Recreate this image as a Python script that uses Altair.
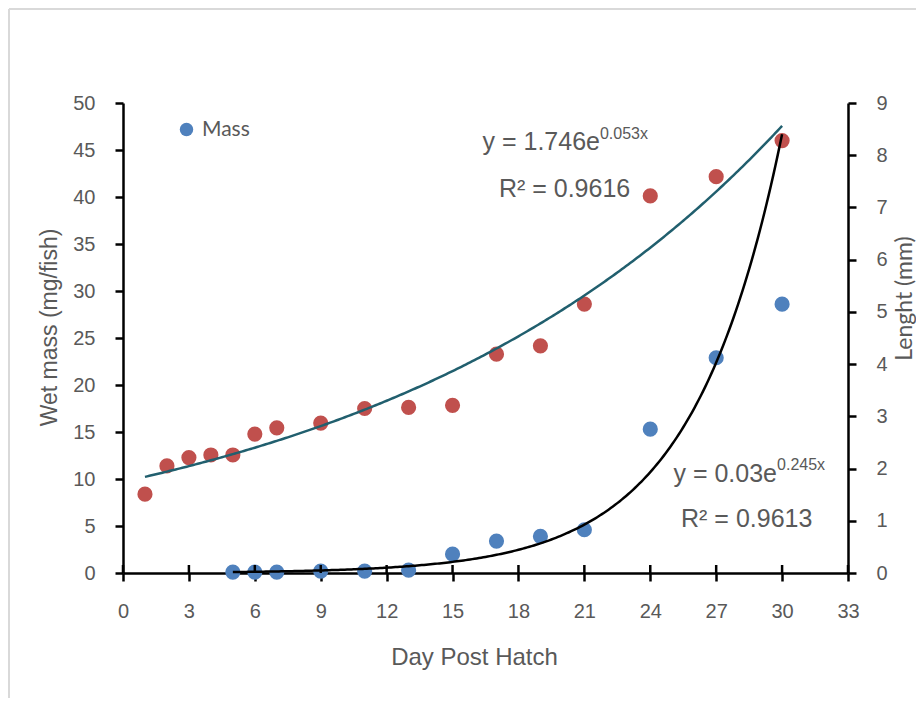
import altair as alt
import pandas as pd

# ---------------- data ----------------
mass_days = [5, 6, 7, 9, 11, 13, 15, 17, 19, 21, 24, 27, 30]
mass_mg = [0.1, 0.1, 0.1, 0.2, 0.2, 0.3, 2.0, 3.4, 3.9, 4.6, 15.3, 22.9, 28.6]
length_days = [1, 2, 3, 4, 5, 6, 7, 9, 11, 13, 15, 17, 19, 21, 24, 27, 30]
length_mm = [1.51, 2.05, 2.21, 2.26, 2.26, 2.66, 2.78, 2.87, 3.15, 3.17, 3.21,
             4.19, 4.35, 5.15, 7.22, 7.59, 8.28]
mass_fit = [0.03, 0.245]      # Excel exponential trendline y = a*e^(b*x)
length_fit = [1.746, 0.053]
x_ticks = list(range(0, 34, 3))
mass_ticks = list(range(0, 51, 5))
length_ticks = list(range(0, 10))
mass_eq = ["y = 0.03e", "0.245x", "R² = 0.9613"]
length_eq = ["y = 1.746e", "0.053x", "R² = 0.9616"]
legend_labels = ["Mass"]

GRAY = "#595959"
BLUE = "#4F81BD"
RED = "#C0504D"
TEAL = "#215F6E"

common_axis = dict(grid=False, domainColor="black", domainWidth=2.5,
                   tickColor="black", tickWidth=2.5, tickSize=8,
                   labelFont="Liberation Sans", labelFontSize=20, labelColor=GRAY,
                   labelPadding=20, labelFlush=False, labelOverlap=False,
                   titleColor=GRAY, titleFontWeight="normal")

xaxis = alt.Axis(values=x_ticks, title="Day Post Hatch", titleFont="Liberation Sans",
                 titleFontSize=24, titlePadding=24, titleX=351, **common_axis)
laxis = alt.Axis(orient="left", values=mass_ticks, title="Wet mass (mg/fish)",
                 titleFont="Liberation Sans", titleFontSize=23, titlePadding=11,
                 titleY=224, **common_axis)
raxis = alt.Axis(orient="right", values=length_ticks, title="Lenght (mm)",
                 titleFont="Lato", titleFontSize=23, titleAngle=270,
                 titleBaseline="top", titlePadding=6, titleY=195, **common_axis)

xscale = alt.Scale(domain=[0, 33], nice=False, zero=False)
lscale = alt.Scale(domain=[0, 50], nice=False, zero=False)
rscale = alt.Scale(domain=[0, 9], nice=False, zero=False)


def X(field):
    return alt.X(field, type="quantitative", scale=xscale, axis=xaxis)


mass_df = pd.DataFrame({"day": mass_days, "mass": mass_mg,
                        "series": [legend_labels[0]] * len(mass_days)})
len_df = pd.DataFrame({"day": length_days, "length": length_mm})

# ---------------- right axis layers (length) ----------------
red_pts = alt.Chart(len_df).mark_circle(size=230, opacity=1, color=RED).encode(
    x=X("day"), y=alt.Y("length:Q", scale=rscale, axis=raxis))

teal = (alt.Chart(alt.sequence(1, 30.001, 0.1, as_="day"))
        .transform_calculate(length=f"{length_fit[0]}*exp({length_fit[1]}*datum.day)")
        .mark_line(color=TEAL, strokeWidth=2.5)
        .encode(x=X("day"), y=alt.Y("length:Q", scale=rscale, axis=raxis)))

right = alt.layer(red_pts, teal)

# ---------------- left axis layers (mass) ----------------
blue_pts = alt.Chart(mass_df).mark_circle(size=230, opacity=1).encode(
    x=X("day"),
    y=alt.Y("mass:Q", scale=lscale, axis=laxis),
    color=alt.Color("series:N", scale=alt.Scale(domain=legend_labels, range=[BLUE]),
                    legend=alt.Legend(orient="none", legendX=53, legendY=16, title=None,
                                      padding=0, symbolType="circle", symbolSize=180,
                                      symbolStrokeWidth=0, labelFont="Lato",
                                      labelFontSize=21, labelColor=GRAY, labelOffset=5)))

black = (alt.Chart(alt.sequence(5, 30.001, 0.1, as_="day"))
         .transform_calculate(mass=f"{mass_fit[0]}*exp({mass_fit[1]}*datum.day)")
         .mark_line(color="black", strokeWidth=2.5)
         .encode(x=X("day"), y=alt.Y("mass:Q", scale=lscale, axis=laxis)))


def txt(s, x, y, size, align):
    return alt.Chart(pd.DataFrame({"label": [s]})).mark_text(
        align=align, baseline="alphabetic", font="Liberation Sans",
        fontSize=size, color=GRAY).encode(
        x=alt.X(datum=x, scale=xscale, axis=xaxis),
        y=alt.Y(datum=y, scale=lscale, axis=laxis),
        text="label:N")


texts = [
    txt(length_eq[0], 21.71, 45.0, 25, "right"),
    txt(length_eq[1], 21.71, 46.2, 16, "left"),
    txt(length_eq[2], 17.11, 40.0, 25, "left"),
    txt(mass_eq[0], 29.77, 9.68, 25, "right"),
    txt(mass_eq[1], 29.77, 10.96, 16, "left"),
    txt(mass_eq[2], 25.40, 4.89, 25, "left"),
]

# upper half of the crossing x-axis ticks
xtick_up = alt.Chart(pd.DataFrame({"t": x_ticks})).mark_rule(
    color="black", strokeWidth=2.5).encode(
    x=X("t"), y=alt.value(462), y2=alt.value(470))

# light chart-area border (left and top edges)
one = pd.DataFrame({"a": [0]})
frame_l = alt.Chart(one).mark_rule(color="#D9D9D9", strokeWidth=2).encode(
    x=alt.value(-114), y=alt.value(-94), y2=alt.value(620))
frame_t = alt.Chart(one).mark_rule(color="#D9D9D9", strokeWidth=2).encode(
    x=alt.value(-114), x2=alt.value(800), y=alt.value(-94))

left = alt.layer(blue_pts, black, *texts, xtick_up, frame_l, frame_t)

chart = (alt.layer(right, left)
         .resolve_scale(y="independent")
         .properties(width=725, height=470,
                     padding={"left": 115, "top": 95, "right": 68, "bottom": 125},
                     autosize=alt.AutoSizeParams(type="none"))
         .configure_view(stroke=None))

chart.save("out.html", embed_options={"renderer": "svg", "actions": False})
